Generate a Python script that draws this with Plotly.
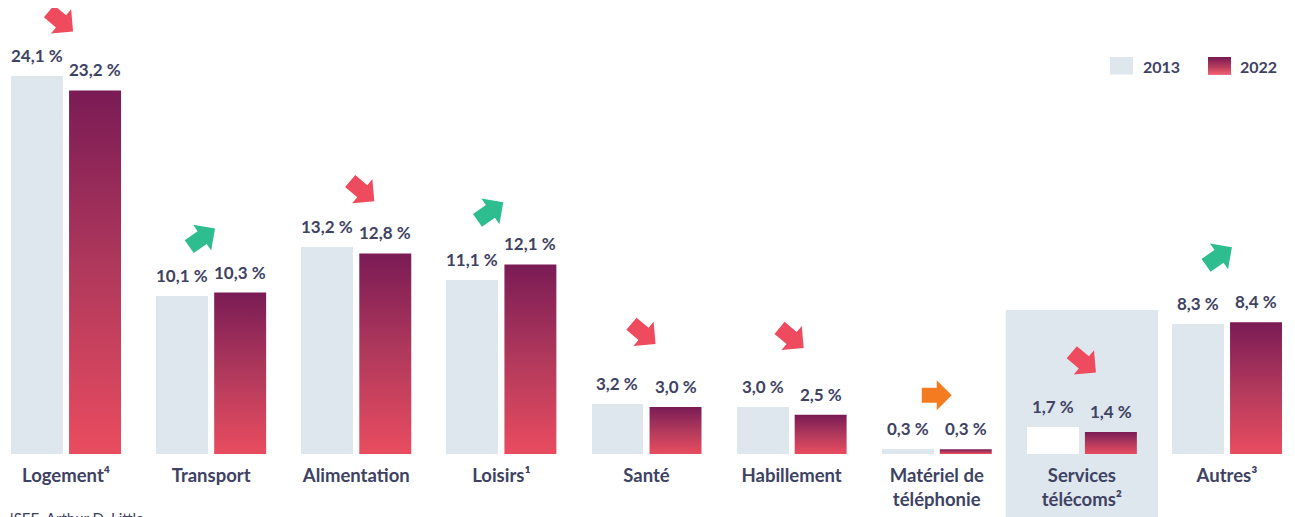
import math
import plotly.graph_objects as go

# ---------------- data ----------------
categories = ["Logement⁴", "Transport", "Alimentation", "Loisirs¹", "Santé",
              "Habillement", "Matériel de<br>téléphonie", "Services<br>télécoms²", "Autres³"]
share_2013 = [24.1, 10.1, 13.2, 11.1, 3.2, 3.0, 0.3, 1.7, 8.3]
share_2022 = [23.2, 10.3, 12.8, 12.1, 3.0, 2.5, 0.3, 1.4, 8.4]
series_names = ["2013", "2022"]
highlight_category = "Services<br>télécoms²"
source_text = "Sources : INSEE, Arthur D. Little"

# ---------------- style ----------------
PAGE_OFF = 8                      # default body margin of the html page
FIG_W, FIG_H = 1295 - PAGE_OFF, 517 - PAGE_OFF
PLOT_BOTTOM_REF = 454             # baseline in window pixels
PLOT_H = PLOT_BOTTOM_REF - PAGE_OFF
M_B = FIG_H - PLOT_H
X_RANGE = [(PAGE_OFF - 66) / 145.1, 8 + (1295 - 1227) / 145.1]
Y_RANGE = [0, PLOT_H / 15.67]
TEXT = "#3E4263"
C2013 = "#DEE6EE"
HIGHLIGHT_BG = "#DEE6EE"
GRAD_BOTTOM, GRAD_MID, GRAD_TOP = "#E94C5F", "#B1395C", "#7A1B55"
RED, GREEN, ORANGE = "#EE4B5E", "#2DBD8F", "#F47B20"
FONT = "Lato"
OFF, BW = 0.2, 0.358
ARROW_LIFT_PX = [55, 55, 56, 53, 70, 69, 54, 65, 66]
ARROW_DX_PX = [-5, -9, 6, -11, -3, 0, 0, 2, -8]


def fmt(v):
    return f"{v:.1f}".replace(".", ",") + " %"


def px_x(ref_px):
    return (ref_px - PAGE_OFF) / FIG_W


def px_y(ref_py):
    return (PLOT_BOTTOM_REF - ref_py) / PLOT_H


xr = X_RANGE[1] - X_RANGE[0]
yr = Y_RANGE[1] - Y_RANGE[0]

pos = list(range(len(categories)))
hi = categories.index(highlight_category)

fig = go.Figure()

# 2013 bars
colors_2013 = ["#FFFFFF" if i == hi else C2013 for i in pos]
fig.add_trace(go.Bar(x=[p - OFF for p in pos], y=share_2013, width=BW,
                     marker=dict(color=colors_2013, line=dict(width=0)),
                     name=series_names[0], showlegend=False, hoverinfo="skip"))

# 2022 bars with vertical gradient
for p, v in zip(pos, share_2022):
    x0, x1 = p + OFF - BW / 2, p + OFF + BW / 2
    fig.add_trace(go.Scatter(
        x=[x0, x1, x1, x0, x0], y=[0, 0, v, v, 0], mode="lines",
        fill="toself", line=dict(width=0),
        fillgradient=dict(type="vertical",
                          colorscale=[[0, GRAD_BOTTOM], [0.5, GRAD_MID], [1, GRAD_TOP]]),
        showlegend=False, hoverinfo="skip", name=series_names[1]))

annotations = []
shapes = []

# highlight background
shapes.append(dict(type="rect", xref="x domain", yref="paper", layer="below",
                   x0=(hi - 0.524 - X_RANGE[0]) / xr, x1=(hi + 0.524 - X_RANGE[0]) / xr,
                   y0=px_y(517), y1=px_y(310),
                   fillcolor=HIGHLIGHT_BG, line=dict(width=0)))

# value labels
for p, a, b in zip(pos, share_2013, share_2022):
    for xv, v in ((p - OFF, a), (p + OFF, b)):
        annotations.append(dict(x=xv, y=v, xref="x", yref="y", text=fmt(v),
                                showarrow=False, yanchor="bottom", yshift=8,
                                font=dict(family=FONT, size=17, color=TEXT, weight=700)))


# arrows
def arrow_path(angle, scale, dx, dy):
    pts = [(-15, -7.5), (0, -7.5), (0, -15), (15, 0), (0, 15), (0, 7.5), (-15, 7.5)]
    ca, sa = math.cos(math.radians(angle)), math.sin(math.radians(angle))
    out = []
    for x, y in pts:
        x, y = x * scale, y * scale
        out.append((x * ca - y * sa + dx, x * sa + y * ca + dy))
    return "M" + "L".join(f"{x:.2f},{y:.2f}" for x, y in out) + "Z"


for i, (p, a, b) in enumerate(zip(pos, share_2013, share_2022)):
    if b < a:
        ang, col, sc = -40, RED, 1.05
    elif b > a:
        ang, col, sc = 35, GREEN, 1.05
    else:
        ang, col, sc = 0, ORANGE, 1.0
    shapes.append(dict(type="path", xref="x domain", yref="y domain",
                       xsizemode="pixel", ysizemode="pixel",
                       xanchor=(p - X_RANGE[0]) / xr, yanchor=(max(a, b) - Y_RANGE[0]) / yr,
                       path=arrow_path(ang, sc, ARROW_DX_PX[i], ARROW_LIFT_PX[i]),
                       fillcolor=col, line=dict(width=0)))


# custom legend
def lerp(c1, c2, u):
    c1 = [int(c1[j:j + 2], 16) for j in (1, 3, 5)]
    c2 = [int(c2[j:j + 2], 16) for j in (1, 3, 5)]
    return "#" + "".join(f"{round(x + (y - x) * u):02x}" for x, y in zip(c1, c2))


shapes.append(dict(type="rect", xref="paper", yref="paper", x0=px_x(1110), x1=px_x(1133),
                   y0=px_y(74.5), y1=px_y(57), fillcolor=C2013, line=dict(width=0)))
n_strips = 18
top, bot = 57.0, 74.5
for k in range(n_strips):
    t = k / (n_strips - 1)
    col = lerp(GRAD_TOP, GRAD_MID, t * 2) if t < 0.5 else lerp(GRAD_MID, GRAD_BOTTOM, (t - 0.5) * 2)
    ya = top + (bot - top) * k / n_strips
    yb = top + (bot - top) * (k + 1) / n_strips
    shapes.append(dict(type="rect", xref="paper", yref="paper", x0=px_x(1208), x1=px_x(1231),
                       y0=px_y(yb + 0.3), y1=px_y(ya), fillcolor=col, line=dict(width=0)))
for name, px in ((series_names[0], 1141), (series_names[1], 1238)):
    annotations.append(dict(x=px_x(px), y=px_y(66), xref="paper", yref="paper", text=name,
                            showarrow=False, xanchor="left", yanchor="middle",
                            font=dict(family=FONT, size=16, color=TEXT, weight=700)))

# source
annotations.append(dict(x=px_x(146), y=px_y(507), xref="paper", yref="paper", text=source_text,
                        showarrow=False, xanchor="right", yanchor="top",
                        font=dict(family=FONT, size=15, color=TEXT)))

fig.update_layout(
    width=FIG_W, height=FIG_H, margin=dict(l=0, r=0, t=0, b=M_B),
    paper_bgcolor="white", plot_bgcolor="rgba(0,0,0,0)",
    showlegend=False, bargap=0,
    xaxis=dict(range=X_RANGE, tickvals=pos, ticktext=categories, showgrid=False,
               zeroline=False, showline=False, ticks="", ticklabelstandoff=8,
               tickfont=dict(family=FONT, size=18.5, color=TEXT, weight=700), fixedrange=True),
    yaxis=dict(range=Y_RANGE, visible=False, showgrid=False, zeroline=False, fixedrange=True),
    shapes=shapes, annotations=annotations,
)

fig.write_html("out.html")
